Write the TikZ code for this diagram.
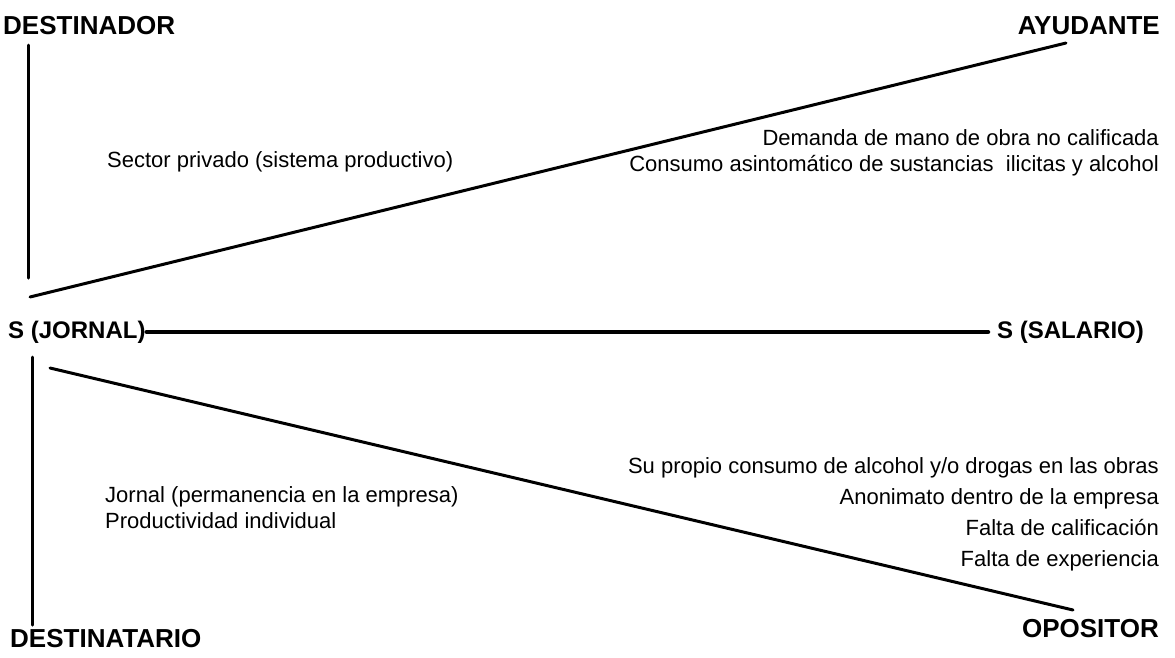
\documentclass[tikz,border=0pt]{standalone}
\usepackage{fontspec}
\setmainfont{Liberation Sans}
\begin{document}
\begin{tikzpicture}[x=1pt,y=-1pt,
  title/.style={font=\fontsize{26}{30}\selectfont\bfseries, inner sep=0pt},
  pole/.style={font=\fontsize{24}{28}\selectfont\bfseries, inner sep=0pt},
  txt/.style={font=\fontsize{22}{26}\selectfont, inner sep=0pt},
  bar/.style={line width=3pt, line cap=round},
  mainbar/.style={line width=4.5pt, line cap=round}]
\fill[white] (0,0) rectangle (1175,657);
\useasboundingbox (0,0) rectangle (1175,657);
% actants
\node[title, anchor=base west] (dor) at (3,34) {DESTINADOR};
\node[title, anchor=base east] (ayu) at (1160,34) {AYUDANTE};
\node[title, anchor=base west] (tario) at (10,647) {DESTINATARIO};
\node[title, anchor=base east] (opo) at (1159,637) {OPOSITOR};
\node[pole, anchor=west] (jor) at (8,332) {S (JORNAL)};
\node[pole, anchor=west] (sal) at (997,332) {S (SALARIO)};
% line end points
\coordinate (v1t) at (28,45);
\coordinate (v1b) at (28,278);
\coordinate (v2t) at (32,357);
\coordinate (v2b) at (32,625);
\coordinate (d1a) at (30,297);
\coordinate (d1b) at (1066,43);
\coordinate (d2a) at (50,368);
\coordinate (d2b) at (1073,610);
% lines
\draw[bar] (v1t) -- (v1b);
\draw[bar] (v2t) -- (v2b);
\draw[bar] (d1a) -- (d1b);
\draw[bar] (d2a) -- (d2b);
\draw[mainbar] ([xshift=1pt]jor.east) -- ([xshift=-9pt]sal.west);
% texts
\node[txt, anchor=base west] (sector) at (107,167) {Sector privado (sistema productivo)};
\node[txt, anchor=base east] (dem) at (1159,145) {Demanda de mano de obra no calificada};
\node[txt, anchor=base east] (cons) at (1159,171) {Consumo asintomático de sustancias\ \ ilicitas y alcohol};
\node[txt, anchor=base west] (jornal) at (105,502) {Jornal (permanencia en la empresa)};
\node[txt, anchor=base west] (prod) at (105,528) {Productividad individual};
\node[txt, anchor=base east] (su) at (1159,473) {Su propio consumo de alcohol y/o drogas en las obras};
\node[txt, anchor=base east] (anon) at (1159,504) {Anonimato dentro de la empresa};
\node[txt, anchor=base east] (fcal) at (1159,535) {Falta de calificación};
\node[txt, anchor=base east] (fexp) at (1159,566) {Falta de experiencia};
\end{tikzpicture}
\end{document}
